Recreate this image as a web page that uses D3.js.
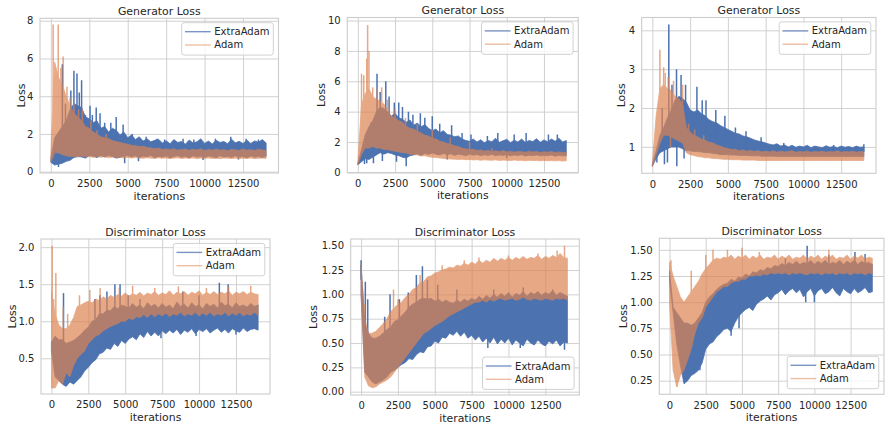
<!DOCTYPE html>
<html>
<head>
<meta charset="utf-8">
<script src="https://cdn.jsdelivr.net/npm/d3@7"></script>
<style>
  body { margin: 0; background: #fff; }
  svg { display: block; font-family: "DejaVu Sans", sans-serif; }
</style>
</head>
<body>
<div id="chart"></div>
<script>
// checkpoints every 250 iterations. Each curve is read off the figure as the band
// most of the noise stays in (Lo / Hi at each checkpoint) plus the odd spikes
// sticking out of it ([iteration, value]).
var iters = d3.range(0, 14001, 250);
var xTicks = [0, 2500, 5000, 7500, 10000, 12500];
var seriesNames = ["ExtraAdam", "Adam"];

// ---- Generator loss, run 1
var g1ExtraHi = [0.7, 1.8, 2.1, 2.4, 2.7, 3.3, 3.6, 3.5, 3.4, 2.9,
  2.8, 2.6, 2.7, 2.3, 2.4, 2.1, 2.3, 2.2, 1.95, 2.1,
  1.8, 1.95, 1.7, 1.85, 1.62, 1.75, 1.58, 1.66, 1.72, 1.52,
  1.64, 1.48, 1.7, 1.55, 1.6, 1.46, 1.68, 1.52, 1.58, 1.74,
  1.5, 1.62, 1.47, 1.66, 1.55, 1.6, 1.48, 1.72, 1.53, 1.61,
  1.49, 1.67, 1.5, 1.63, 1.56, 1.7, 1.52];
var g1ExtraLo = [0.5, 0.35, 0.4, 0.45, 0.55, 0.6, 0.75, 0.8, 0.78, 0.72,
  0.85, 0.82, 0.75, 0.85, 0.78, 0.86, 0.8, 0.72, 0.76, 0.82,
  0.85, 0.78, 0.84, 0.75, 0.82, 0.79, 0.86, 0.74, 0.81, 0.77,
  0.83, 0.72, 0.8, 0.85, 0.76, 0.81, 0.73, 0.84, 0.78, 0.8,
  0.74, 0.83, 0.79, 0.72, 0.85, 0.77, 0.81, 0.75, 0.84, 0.78,
  0.8, 0.73, 0.83, 0.77, 0.81, 0.75, 0.82];
var g1ExtraSpikes = [[500, 0.25], [750, 5.7], [950, 3.6], [1300, 4.3], [1500, 5.35], [1700, 5.2],
  [1850, 4.2], [2000, 4.85], [2250, 3.0], [2550, 3.5], [2700, 3.0], [2950, 3.4], [3200, 3.1],
  [3500, 2.6], [3900, 2.6], [4250, 2.9], [4700, 2.5], [4800, 0.45], [5300, 2.0], [5700, 0.55],
  [6200, 1.85], [6900, 1.75], [7400, 1.7], [8600, 1.75], [9300, 1.7], [9900, 0.62],
  [10700, 1.75], [11700, 1.85], [12200, 0.65], [12700, 1.75], [13500, 1.7]];
var g1AdamHi = [0.9, 5.8, 5.0, 4.6, 4.0, 3.5, 3.1, 2.9, 2.7, 2.4,
  2.3, 2.1, 2.0, 1.85, 1.8, 1.75, 1.65, 1.6, 1.55, 1.5,
  1.45, 1.4, 1.38, 1.33, 1.35, 1.28, 1.26, 1.22, 1.25, 1.18,
  1.2, 1.16, 1.22, 1.14, 1.18, 1.2, 1.13, 1.19, 1.15, 1.21,
  1.12, 1.17, 1.14, 1.2, 1.13, 1.18, 1.11, 1.19, 1.15, 1.13,
  1.2, 1.14, 1.17, 1.12, 1.19, 1.15, 1.13];
var g1AdamLo = [0.5, 1.0, 1.0, 0.9, 0.85, 0.8, 0.82, 0.78, 0.83, 0.79,
  0.8, 0.76, 0.81, 0.77, 0.79, 0.74, 0.78, 0.75, 0.77, 0.73,
  0.76, 0.72, 0.75, 0.73, 0.71, 0.74, 0.72, 0.7, 0.74, 0.71,
  0.73, 0.7, 0.72, 0.74, 0.7, 0.72, 0.71, 0.73, 0.69, 0.72,
  0.71, 0.73, 0.7, 0.72, 0.69, 0.73, 0.71, 0.7, 0.72, 0.69,
  0.72, 0.7, 0.73, 0.69, 0.71, 0.72, 0.7];
var g1AdamSpikes = [[150, 7.8], [480, 7.8], [650, 5.5], [800, 6.1], [1050, 4.5], [1250, 3.9],
  [1500, 3.6], [1800, 3.3], [2050, 3.3], [2600, 2.7], [3000, 2.2], [3600, 2.0]];

// ---- Generator loss, run 2
var g2ExtraHi = [0.6, 1.5, 2.5, 3.0, 3.4, 4.0, 4.3, 4.2, 4.0, 3.7,
  3.9, 3.6, 3.5, 3.3, 3.45, 3.1, 3.25, 3.0, 3.15, 2.9,
  2.75, 2.85, 2.6, 2.75, 2.5, 2.45, 2.35, 2.4, 2.2, 2.1,
  2.05, 2.2, 2.0, 2.15, 1.95, 2.1, 2.02, 2.25, 1.98, 2.08,
  2.18, 1.96, 2.12, 2.0, 2.2, 1.97, 2.1, 2.03, 2.22, 1.99,
  2.14, 2.02, 2.2, 2.05, 2.25, 2.0, 2.1];
var g2ExtraLo = [0.5, 0.7, 0.9, 0.85, 1.0, 1.15, 1.3, 1.2, 1.3, 1.25,
  1.15, 1.1, 1.0, 0.95, 1.1, 1.15, 1.22, 1.12, 1.25, 1.18,
  1.28, 1.2, 1.15, 1.24, 1.17, 1.22, 1.12, 1.2, 1.16, 1.1,
  1.2, 1.13, 1.18, 1.1, 1.16, 1.12, 1.19, 1.1, 1.15, 1.12,
  1.17, 1.09, 1.14, 1.11, 1.16, 1.08, 1.13, 1.1, 1.15, 1.09,
  1.12, 1.1, 1.14, 1.07, 1.12, 1.09, 1.1];
var g2ExtraSpikes = [[450, 0.55], [600, 0.6], [900, 3.3], [1050, 0.6], [1290, 6.5], [1500, 5.3],
  [1650, 0.75], [1880, 6.0], [2100, 5.0], [2450, 4.6], [2600, 0.7], [2750, 4.6], [3000, 4.3],
  [3250, 0.4], [3400, 4.0], [3700, 3.8], [4200, 3.9], [4500, 3.6], [5000, 3.7], [5500, 3.2],
  [6000, 0.85], [6300, 3.1], [7000, 2.6], [7600, 2.5], [8700, 2.4], [9400, 2.6], [10000, 0.95],
  [10500, 2.5], [11300, 2.6], [12800, 2.5], [13400, 2.5]];
var g2AdamHi = [0.6, 4.5, 5.2, 5.5, 5.0, 4.8, 4.7, 4.5, 4.1, 3.7,
  3.6, 3.4, 3.3, 3.05, 2.9, 2.85, 2.7, 2.6, 2.45, 2.4,
  2.25, 2.2, 2.05, 2.0, 1.9, 1.85, 1.75, 1.7, 1.6, 1.55,
  1.5, 1.52, 1.44, 1.48, 1.4, 1.46, 1.38, 1.42, 1.36, 1.44,
  1.35, 1.4, 1.33, 1.38, 1.36, 1.32, 1.4, 1.34, 1.37, 1.31,
  1.36, 1.33, 1.38, 1.3, 1.35, 1.32, 1.3];
var g2AdamLo = [0.5, 1.2, 1.6, 1.6, 1.7, 1.6, 1.6, 1.5, 1.5, 1.45,
  1.4, 1.35, 1.3, 1.28, 1.2, 1.18, 1.15, 1.08, 1.1, 1.03,
  1.0, 0.98, 0.95, 0.92, 0.9, 0.88, 0.87, 0.85, 0.87, 0.84,
  0.85, 0.82, 0.84, 0.8, 0.83, 0.81, 0.8, 0.83, 0.79, 0.81,
  0.8, 0.78, 0.82, 0.79, 0.8, 0.77, 0.8, 0.78, 0.79, 0.76,
  0.79, 0.77, 0.78, 0.76, 0.78, 0.75, 0.77];
var g2AdamSpikes = [[250, 6.5], [400, 6.4], [600, 7.5], [660, 9.7], [750, 8.0], [1000, 5.6],
  [1300, 5.5], [1600, 5.6], [2000, 4.8], [2500, 4.2], [3200, 3.6], [4000, 3.2], [5000, 2.8],
  [6200, 2.3], [7500, 2.0], [9000, 1.6]];

// ---- Generator loss, run 3
var g3ExtraHi = [0.55, 0.9, 1.3, 1.5, 1.75, 1.95, 2.2, 2.3, 2.25, 2.15,
  1.95, 1.9, 1.95, 1.85, 1.8, 1.7, 1.65, 1.62, 1.55, 1.5,
  1.45, 1.4, 1.35, 1.33, 1.28, 1.26, 1.22, 1.18, 1.15, 1.13,
  1.1, 1.07, 1.05, 1.08, 1.02, 1.05, 1.0, 1.04, 0.99, 1.02,
  1.0, 1.04, 0.98, 1.02, 1.0, 0.98, 1.03, 0.99, 1.01, 0.98,
  1.02, 0.99, 1.01, 0.98, 1.02, 0.99, 1.0];
var g3ExtraLo = [0.5, 0.7, 0.85, 0.9, 0.95, 1.0, 1.0, 1.0, 0.95, 0.9,
  0.9, 0.88, 0.88, 0.87, 0.85, 0.85, 0.83, 0.82, 0.8, 0.8,
  0.8, 0.79, 0.79, 0.78, 0.78, 0.78, 0.77, 0.77, 0.77, 0.76,
  0.76, 0.76, 0.76, 0.75, 0.75, 0.75, 0.75, 0.75, 0.75, 0.75,
  0.75, 0.75, 0.75, 0.75, 0.75, 0.75, 0.75, 0.75, 0.75, 0.75,
  0.75, 0.75, 0.75, 0.75, 0.75, 0.75, 0.75];
var g3ExtraSpikes = [[300, 0.6], [650, 2.0], [800, 0.55], [1000, 0.6], [1090, 4.15], [1300, 2.6],
  [1600, 3.0], [1620, 0.5], [1900, 2.85], [2100, 0.7], [2200, 2.6], [2950, 2.55], [3300, 2.2],
  [3550, 2.2], [4200, 1.95], [4800, 1.8], [5500, 1.5], [6200, 1.4], [7200, 1.25], [8700, 1.1],
  [12000, 1.05], [14000, 1.07]];
var g3AdamHi = [0.55, 1.8, 2.5, 2.6, 2.5, 2.45, 2.3, 2.25, 2.1, 1.5,
  1.38, 1.3, 1.26, 1.2, 1.17, 1.12, 1.1, 1.05, 1.02, 0.98,
  0.96, 0.93, 0.94, 0.9, 0.92, 0.89, 0.91, 0.88, 0.9, 0.87,
  0.89, 0.87, 0.9, 0.86, 0.89, 0.87, 0.88, 0.9, 0.86, 0.88,
  0.87, 0.89, 0.86, 0.88, 0.87, 0.89, 0.86, 0.88, 0.87, 0.9,
  0.86, 0.88, 0.87, 0.89, 0.86, 0.88, 0.87];
var g3AdamLo = [0.5, 0.8, 1.1, 1.3, 1.3, 1.25, 1.2, 1.15, 1.1, 0.85,
  0.8, 0.78, 0.75, 0.74, 0.72, 0.72, 0.7, 0.7, 0.69, 0.68,
  0.68, 0.67, 0.67, 0.67, 0.66, 0.66, 0.66, 0.66, 0.65, 0.65,
  0.65, 0.65, 0.65, 0.65, 0.65, 0.65, 0.65, 0.65, 0.65, 0.65,
  0.65, 0.65, 0.65, 0.65, 0.65, 0.65, 0.65, 0.65, 0.65, 0.65,
  0.65, 0.65, 0.65, 0.65, 0.65, 0.65, 0.65];
var g3AdamSpikes = [[500, 3.5], [750, 3.05], [850, 2.9], [1050, 2.8], [1200, 1.0], [1400, 2.7],
  [2000, 2.6], [2400, 1.6], [2800, 1.45], [3400, 1.3]];

// ---- Discriminator loss, run 1
var d1ExtraHi = [0.72, 0.8, 0.75, 0.75, 0.7, 0.72, 0.74, 0.78, 0.82, 0.88,
  0.92, 1.0, 1.02, 1.1, 1.1, 1.15, 1.14, 1.2, 1.17, 1.22,
  1.2, 1.18, 1.24, 1.19, 1.22, 1.17, 1.25, 1.2, 1.23, 1.18,
  1.24, 1.19, 1.22, 1.17, 1.26, 1.2, 1.23, 1.18, 1.25, 1.2,
  1.22, 1.17, 1.24, 1.2, 1.23, 1.18, 1.26, 1.21, 1.23, 1.18,
  1.25, 1.2, 1.22, 1.19, 1.24, 1.2, 1.22];
var d1ExtraLo = [0.6, 0.25, 0.2, 0.15, 0.12, 0.18, 0.15, 0.2, 0.25, 0.33,
  0.38, 0.44, 0.48, 0.56, 0.58, 0.64, 0.62, 0.7, 0.66, 0.74,
  0.7, 0.76, 0.79, 0.75, 0.83, 0.78, 0.86, 0.8, 0.85, 0.8,
  0.87, 0.83, 0.88, 0.84, 0.89, 0.82, 0.88, 0.85, 0.9, 0.83,
  0.89, 0.86, 0.9, 0.84, 0.88, 0.91, 0.85, 0.89, 0.84, 0.9,
  0.87, 0.85, 0.91, 0.86, 0.89, 0.9, 0.88];
var d1ExtraSpikes = [[820, 1.38], [2950, 1.3], [3290, 1.35], [3760, 1.4], [4300, 1.5], [4650, 1.5],
  [5200, 1.35], [6000, 1.3], [7420, 0.77], [8900, 1.4], [9800, 0.8], [10000, 1.35],
  [11375, 1.52], [11970, 1.5], [12500, 0.82]];
var d1AdamHi = [1.4, 1.1, 0.95, 0.9, 0.9, 0.95, 1.05, 1.2, 1.22, 1.25,
  1.27, 1.25, 1.3, 1.28, 1.33, 1.3, 1.35, 1.32, 1.36, 1.34,
  1.38, 1.34, 1.37, 1.35, 1.39, 1.34, 1.38, 1.36, 1.4, 1.35,
  1.38, 1.36, 1.41, 1.35, 1.39, 1.37, 1.4, 1.35, 1.39, 1.37,
  1.41, 1.35, 1.39, 1.36, 1.4, 1.36, 1.39, 1.37, 1.41, 1.35,
  1.39, 1.37, 1.4, 1.36, 1.39, 1.37, 1.36];
var d1AdamLo = [0.1, 0.1, 0.2, 0.15, 0.3, 0.25, 0.4, 0.5, 0.55, 0.6,
  0.7, 0.75, 0.8, 0.82, 0.87, 0.9, 0.93, 0.95, 0.97, 1.0,
  1.0, 1.04, 1.02, 1.06, 1.05, 1.09, 1.05, 1.1, 1.06, 1.1,
  1.07, 1.11, 1.06, 1.1, 1.08, 1.12, 1.07, 1.1, 1.08, 1.12,
  1.07, 1.11, 1.08, 1.12, 1.07, 1.1, 1.08, 1.12, 1.07, 1.11,
  1.08, 1.12, 1.07, 1.1, 1.08, 1.12, 1.08];
var d1AdamSpikes = [[50, 2.02], [150, 1.3], [300, 1.65], [800, 1.2], [1100, 1.1], [1900, 1.35],
  [2600, 1.42], [3300, 1.45], [4600, 1.45], [5500, 1.48], [7000, 1.45], [8600, 1.47],
  [10500, 1.45], [12000, 1.47], [13500, 1.48]];

// ---- Discriminator loss, run 2
var d2ExtraHi = [1.3, 0.7, 0.6, 0.55, 0.55, 0.57, 0.6, 0.64, 0.66, 0.72,
  0.74, 0.78, 0.82, 0.87, 0.9, 0.92, 0.95, 0.96, 0.95, 0.96,
  0.93, 0.95, 0.92, 0.94, 0.92, 0.91, 0.94, 0.92, 0.95, 0.93,
  0.96, 0.94, 0.98, 0.95, 0.99, 0.96, 1.0, 0.97, 1.01, 0.98,
  1.02, 0.97, 1.01, 0.99, 1.03, 0.98, 1.02, 1.0, 1.03, 0.99,
  1.02, 1.0, 1.04, 0.99, 1.02, 1.0, 0.98];
var d2ExtraLo = [1.0, 0.2, 0.15, 0.1, 0.08, 0.1, 0.12, 0.15, 0.2, 0.22,
  0.25, 0.28, 0.3, 0.34, 0.33, 0.38, 0.41, 0.4, 0.46, 0.47,
  0.52, 0.5, 0.56, 0.55, 0.6, 0.58, 0.62, 0.57, 0.61, 0.55,
  0.58, 0.53, 0.57, 0.51, 0.55, 0.5, 0.56, 0.49, 0.54, 0.5,
  0.55, 0.48, 0.53, 0.5, 0.47, 0.54, 0.5, 0.48, 0.53, 0.49,
  0.47, 0.52, 0.49, 0.53, 0.47, 0.51, 0.5];
var d2ExtraSpikes = [[0, 1.35], [288, 1.13], [450, 0.95], [1600, 0.77], [1964, 1.0], [2600, 0.95],
  [3200, 1.02], [3750, 1.2], [4160, 1.29], [4500, 1.15], [5200, 1.1], [6500, 1.05],
  [8600, 0.45], [9000, 1.05], [10800, 0.45], [11000, 1.07], [13000, 1.05], [13800, 0.43]];
var d2AdamHi = [1.3, 0.75, 0.6, 0.6, 0.62, 0.66, 0.7, 0.75, 0.82, 0.86,
  0.9, 0.92, 0.97, 1.0, 1.05, 1.07, 1.12, 1.13, 1.18, 1.19,
  1.22, 1.23, 1.25, 1.26, 1.28, 1.27, 1.3, 1.29, 1.32, 1.3,
  1.33, 1.31, 1.35, 1.32, 1.35, 1.33, 1.37, 1.34, 1.37, 1.35,
  1.38, 1.35, 1.38, 1.36, 1.39, 1.36, 1.38, 1.37, 1.4, 1.36,
  1.39, 1.37, 1.4, 1.38, 1.42, 1.38, 1.37];
var d2AdamLo = [1.0, 0.15, 0.06, 0.04, 0.05, 0.08, 0.1, 0.12, 0.15, 0.2,
  0.25, 0.3, 0.35, 0.4, 0.45, 0.5, 0.55, 0.6, 0.62, 0.65,
  0.68, 0.7, 0.72, 0.75, 0.78, 0.8, 0.82, 0.84, 0.86, 0.88,
  0.9, 0.92, 0.92, 0.94, 0.92, 0.95, 0.93, 0.95, 0.96, 0.94,
  0.95, 0.96, 0.94, 0.95, 0.97, 0.95, 0.94, 0.96, 0.95, 0.94,
  0.96, 0.95, 0.94, 0.96, 0.95, 0.96, 0.94];
var d2AdamSpikes = [[250, 0.9], [2200, 1.05], [2500, 0.95], [4000, 1.2], [5500, 1.3], [7000, 1.35],
  [8000, 1.38], [10000, 1.4], [12000, 1.42], [13300, 1.45], [13800, 1.5]];

// ---- Discriminator loss, run 3
var d3ExtraHi = [1.3, 0.95, 0.9, 0.85, 0.8, 0.8, 0.78, 0.8, 0.85, 0.9,
  1.0, 1.05, 1.08, 1.12, 1.15, 1.17, 1.18, 1.22, 1.2, 1.24,
  1.23, 1.27, 1.25, 1.29, 1.28, 1.31, 1.3, 1.33, 1.32, 1.35,
  1.34, 1.37, 1.35, 1.38, 1.36, 1.39, 1.36, 1.38, 1.37, 1.4,
  1.36, 1.39, 1.37, 1.4, 1.36, 1.38, 1.37, 1.4, 1.36, 1.39,
  1.37, 1.4, 1.36, 1.39, 1.37, 1.38, 1.36];
var d3ExtraLo = [1.2, 0.9, 0.6, 0.4, 0.22, 0.25, 0.3, 0.32, 0.35, 0.42,
  0.55, 0.6, 0.62, 0.67, 0.7, 0.74, 0.75, 0.72, 0.8, 0.86,
  0.9, 0.93, 0.95, 0.92, 0.98, 1.01, 1.03, 1.06, 1.02, 1.07,
  1.09, 1.12, 1.07, 1.11, 1.13, 1.09, 1.12, 1.05, 1.1, 1.13,
  1.06, 1.11, 1.13, 1.08, 1.1, 1.14, 1.09, 1.06, 1.13, 1.1,
  1.08, 1.13, 1.09, 1.11, 1.14, 1.09, 1.1];
var d3ExtraSpikes = [[2100, 0.35], [4250, 0.68], [4800, 0.75], [8000, 1.42], [9400, 1.0],
  [9500, 1.54], [10000, 1.0], [11000, 1.45], [12800, 1.48], [13500, 1.46]];
var d3AdamHi = [1.38, 1.25, 1.15, 1.05, 1.0, 1.05, 1.1, 1.15, 1.2, 1.27,
  1.32, 1.36, 1.4, 1.42, 1.41, 1.43, 1.42, 1.45, 1.41, 1.44,
  1.42, 1.45, 1.41, 1.44, 1.42, 1.45, 1.41, 1.43, 1.42, 1.45,
  1.41, 1.44, 1.42, 1.45, 1.41, 1.43, 1.42, 1.45, 1.41, 1.44,
  1.42, 1.45, 1.41, 1.44, 1.42, 1.45, 1.41, 1.43, 1.42, 1.45,
  1.41, 1.44, 1.42, 1.45, 1.41, 1.43, 1.42];
var d3AdamLo = [1.0, 0.35, 0.19, 0.3, 0.35, 0.45, 0.55, 0.7, 0.8, 0.85,
  0.95, 1.0, 1.05, 1.1, 1.12, 1.15, 1.15, 1.18, 1.2, 1.2,
  1.22, 1.22, 1.25, 1.25, 1.26, 1.25, 1.27, 1.26, 1.28, 1.27,
  1.28, 1.27, 1.28, 1.26, 1.28, 1.27, 1.28, 1.27, 1.26, 1.28,
  1.27, 1.28, 1.26, 1.28, 1.27, 1.28, 1.26, 1.28, 1.27, 1.28,
  1.26, 1.28, 1.27, 1.28, 1.26, 1.28, 1.27];
var d3AdamSpikes = [[100, 1.4], [500, 0.19], [1500, 1.3], [2500, 1.45], [3000, 1.5], [4000, 1.5],
  [5000, 1.52], [6200, 1.48], [11000, 1.5], [13800, 1.35]];

// y tick values per panel
var g1Ticks = [0, 2, 4, 6, 8];
var g2Ticks = [0, 2, 4, 6, 8, 10];
var g3Ticks = [1, 2, 3, 4];
var d1Ticks = [0.5, 1.0, 1.5, 2.0];
var d2Ticks = [0, 0.25, 0.5, 0.75, 1.0, 1.25, 1.5];
var d3Ticks = [0.25, 0.5, 0.75, 1.0, 1.25, 1.5];

var width = 886, height = 423;
var textColor = "#262626", gridColor = "#cccccc";
var colors = ["#4c72b0", "#dd8452"];
var alphas = [1, 0.7];

// layout: axes box [left, top, right, bottom], y domain, legend corner
var panels = [
  { title: "Generator Loss", ticks: g1Ticks, fmt: "d",
    series: [[g1ExtraLo, g1ExtraHi, g1ExtraSpikes], [g1AdamLo, g1AdamHi, g1AdamSpikes]],
    box: [40, 18.3, 278.5, 173], yDomain: [-0.07, 8.13], legend: "upper", ylabX: 20.7 },
  { title: "Generator Loss", ticks: g2Ticks, fmt: "d",
    series: [[g2ExtraLo, g2ExtraHi, g2ExtraSpikes], [g2AdamLo, g2AdamHi, g2AdamSpikes]],
    box: [347.3, 17.5, 578.3, 172.7], yDomain: [-0.02, 10.2], legend: "upper", ylabX: 320.7 },
  { title: "Generator Loss", ticks: g3Ticks, fmt: "d",
    series: [[g3ExtraLo, g3ExtraHi, g3ExtraSpikes], [g3AdamLo, g3AdamHi, g3AdamSpikes]],
    box: [641.7, 17.5, 876, 173.3], yDomain: [0.32, 4.33], legend: "upper", ylabX: 621 },
  { title: "Discriminator Loss", ticks: d1Ticks, fmt: ".1f",
    series: [[d1ExtraLo, d1ExtraHi, d1ExtraSpikes], [d1AdamLo, d1AdamHi, d1AdamSpikes]],
    box: [41, 239, 270, 394], yDomain: [0.018, 2.11], legend: "upper", ylabX: 11.7 },
  { title: "Discriminator Loss", ticks: d2Ticks, fmt: ".2f",
    series: [[d2ExtraLo, d2ExtraHi, d2ExtraSpikes], [d2AdamLo, d2AdamHi, d2AdamSpikes]],
    box: [350.7, 239, 579.3, 395], yDomain: [-0.034, 1.569], legend: "lower", ylabX: 313.3 },
  { title: "Discriminator Loss", ticks: d3Ticks, fmt: ".2f",
    series: [[d3ExtraLo, d3ExtraHi, d3ExtraSpikes], [d3AdamLo, d3AdamHi, d3AdamSpikes]],
    box: [659.3, 238.3, 884, 394.3], yDomain: [0.12, 1.61], legend: "lower", ylabX: 623.3 }
];

var svg = d3.select("#chart").append("svg")
    .attr("width", width)
    .attr("height", height);

panels.forEach(function (p, k) {
    var L = p.box[0], T = p.box[1], R = p.box[2], B = p.box[3];
    var x = d3.scaleLinear().domain([-705, 14805]).range([L, R]);
    var y = d3.scaleLinear().domain(p.yDomain).range([B, T]);
    var g = svg.append("g");

    g.append("rect")
        .attr("x", L).attr("y", T).attr("width", R - L).attr("height", B - T)
        .attr("fill", "#fff");

    // x grid + labels
    var xa = g.append("g")
        .attr("transform", "translate(0," + B + ")")
        .call(d3.axisBottom(x).tickValues(xTicks).tickSize(-(B - T)).tickPadding(7.3).tickFormat(d3.format("d")));
    // y grid + labels
    var ya = g.append("g")
        .attr("transform", "translate(" + L + ",0)")
        .call(d3.axisLeft(y).tickValues(p.ticks).tickSize(-(R - L)).tickPadding(6.7).tickFormat(d3.format(p.fmt)));
    [xa, ya].forEach(function (a) {
        a.select(".domain").remove();
        a.selectAll("line").attr("stroke", gridColor).attr("stroke-width", 0.9);
        a.selectAll("text").attr("fill", textColor).style("font-size", "10px").style("font-family", "DejaVu Sans");
    });

    // curves, each in its own group so the Adam alpha does not stack
    g.append("clipPath").attr("id", "clip" + k)
        .append("rect").attr("x", L).attr("y", T).attr("width", R - L).attr("height", B - T);
    var band = d3.area()
        .x(function (d) { return x(d[0]); })
        .y0(function (d) { return y(d[1]); })
        .y1(function (d) { return y(d[2]); });
    p.series.forEach(function (s, j) {
        var lo = s[0], hi = s[1], spikes = s[2];
        var sg = g.append("g")
            .attr("clip-path", "url(#clip" + k + ")")
            .attr("opacity", alphas[j]);
        sg.append("path")
            .attr("d", band(iters.map(function (it, i) { return [it, lo[i], hi[i]]; })))
            .attr("fill", colors[j])
            .attr("stroke", colors[j])
            .attr("stroke-width", 0.8)
            .attr("stroke-linejoin", "round");
        // spikes run from the middle of the band out to their value
        sg.selectAll("line.spike").data(spikes).join("line")
            .attr("class", "spike")
            .attr("x1", function (d) { return x(d[0]); })
            .attr("x2", function (d) { return x(d[0]); })
            .attr("y1", function (d) {
                var i = Math.min(iters.length - 1, Math.round(d[0] / 250));
                return y((lo[i] + hi[i]) / 2);
            })
            .attr("y2", function (d) { return y(d[1]); })
            .attr("stroke", colors[j])
            .attr("stroke-width", 1.5);
    });

    // spines
    g.append("rect")
        .attr("x", L).attr("y", T).attr("width", R - L).attr("height", B - T)
        .attr("fill", "none").attr("stroke", gridColor).attr("stroke-width", 1.1);

    // title and axis labels
    g.append("text")
        .attr("x", (L + R) / 2).attr("y", T - 3.2)
        .attr("text-anchor", "middle").attr("fill", textColor).style("font-size", "10.9px")
        .text(p.title);
    g.append("text")
        .attr("x", (L + R) / 2).attr("y", B + 26.5)
        .attr("text-anchor", "middle").attr("fill", textColor).style("font-size", "10.9px")
        .text("iterations");
    g.append("text")
        .attr("transform", "translate(" + (p.ylabX + 3.9) + "," + ((T + B) / 2) + ") rotate(-90)")
        .attr("text-anchor", "middle").attr("fill", textColor).style("font-size", "10.9px")
        .text("Loss");

    // legend
    var lw = 91.6, lh = 32.4;
    var lx = R - 5.2 - lw;
    var ly = p.legend === "upper" ? T + 4.4 : B - 5.6 - lh;
    var leg = g.append("g").attr("transform", "translate(" + lx + "," + ly + ")");
    leg.append("rect")
        .attr("width", lw).attr("height", lh).attr("rx", 2.5)
        .attr("fill", "#fff").attr("fill-opacity", 0.8)
        .attr("stroke", gridColor).attr("stroke-width", 0.9);
    seriesNames.forEach(function (name, j) {
        var cy = 9 + j * 13.3;
        leg.append("line")
            .attr("x1", 3.3).attr("x2", 29).attr("y1", cy).attr("y2", cy)
            .attr("stroke", colors[j]).attr("stroke-opacity", alphas[j] * 0.75).attr("stroke-width", 1.4);
        leg.append("text")
            .attr("x", 32.6).attr("y", cy).attr("dy", "0.35em")
            .attr("fill", textColor).style("font-size", "10px")
            .text(name);
    });
});
</script>
</body>
</html>
